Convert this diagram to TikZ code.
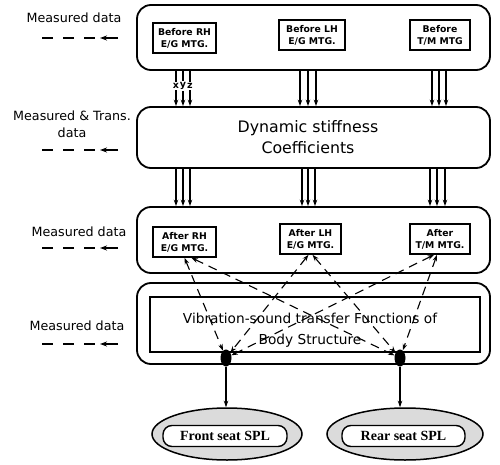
\documentclass[tikz,border=0pt]{standalone}
\usepackage{fontspec}
\setmainfont{DejaVu Sans}
\newfontfamily\seatfont{Liberation Serif}
\usetikzlibrary{arrows.meta,shapes.geometric,calc}

\begin{document}
\begin{tikzpicture}[x=1pt,y=-1pt,
  >={Stealth[length=6.5pt,width=4.5pt]},
  panel/.style={draw, line width=1.8pt, rounded corners=14pt, minimum width=353pt, inner sep=0pt},
  mtg/.style={draw, line width=1.6pt, inner sep=0pt, align=center, minimum height=30pt,
              font=\fontsize{9.3}{12}\selectfont\bfseries},
  flow/.style={line width=1.25pt, ->},
  link/.style={line width=1.1pt, dash pattern=on 9pt off 6pt, <->},
  legend/.style={line width=1.7pt, dash pattern=on 11pt off 10pt},
  legtip/.style={line width=1.7pt, -{Stealth[length=7pt,width=5pt]}},
  side/.style={inner sep=0pt, align=center, font=\fontsize{12.7}{17}\selectfont},
  dot/.style={ellipse, fill=black, minimum width=11pt, minimum height=17pt, inner sep=0pt},
  seat/.style={ellipse, draw, line width=1.5pt, fill=black!14, inner sep=0pt, minimum height=52pt},
  seatbox/.style={draw, line width=1.4pt, fill=white, rounded corners=9pt, minimum height=21pt,
                  inner sep=0pt, font=\seatfont\bfseries\fontsize{14}{16}\selectfont}
]
\useasboundingbox (0,0) rectangle (500,465);

% four process panels
\node[panel, minimum height=65pt] (b1) at (313.5,37.5) {};
\node[panel, minimum height=61pt] (b2) at (313.5,137.5) {};
\node[panel, minimum height=66pt] (b3) at (313.5,240) {};
\node[panel, minimum height=81pt] (b4) at (313.5,323.5) {};

% mounting boxes
\node[mtg, minimum width=63pt] (brh) at (184.5,38) {Before RH\\E/G MTG.};
\node[mtg, minimum width=66pt] (blh) at (312,35) {Before LH\\E/G MTG.};
\node[mtg, minimum width=60pt] (btm) at (440,35) {Before\\T/M MTG};
\node[mtg, minimum width=63pt] (arh) at (184.5,242) {After RH\\E/G MTG.};
\node[mtg, minimum width=61pt] (alh) at (310.5,239) {After LH\\E/G MTG.};
\node[mtg, minimum width=60pt] (atm) at (440,239) {After\\T/M MTG.};

% stiffness panel text
\node[inner sep=0pt, align=center, font=\fontsize{15.8}{21}\selectfont] (dsc) at (308,137.5)
  {Dynamic stiffness\\Coefficients};

% transfer function panel
\node[draw, line width=1.5pt, minimum width=330pt, minimum height=55pt, inner sep=0pt] (vbox) at (315,324.5) {};
\node[inner sep=0pt, align=center, font=\fontsize{13.7}{21}\selectfont] (vtext) at (310,330.5)
  {Vibration-sound transfer Functions of\\Body Structure};

% triple arrows, before -> stiffness
\foreach \x/\l in {176/x,183/y,190/z} {
  \node[inner sep=1.5pt, font=\fontsize{9.5}{9.5}\selectfont\bfseries] (ax\l) at (\x,86) {\l};
  \draw[line width=1.25pt] (b1.south -| ax\l) -- (ax\l.north);
  \draw[flow] (ax\l.south) -- (b2.north -| ax\l);
}
\foreach \x in {300,308,316,432,439,446}
  \draw[flow] (b1.south -| \x,0) -- (b2.north -| \x,0);

% triple arrows, stiffness -> after
\foreach \x in {176,183,190,302,308,315,430,437,445}
  \draw[flow] (b2.south -| \x,0) -- (b3.north -| \x,0);

% junction dots
\node[dot] (d1) at (226,358) {};
\node[dot] (d2) at (400,358) {};

% dashed links between mountings and junctions
\draw[link] (arh.south) -- (d1);
\draw[link] ([xshift=7pt]arh.south) -- (d2);
\draw[link] ([xshift=-2pt]alh.south) -- (d1);
\draw[link] ([xshift=2pt]alh.south) -- (d2);
\draw[link] ([xshift=-6pt]atm.south) -- (d1);
\draw[link] ([xshift=-3pt]atm.south) -- (d2);

% seat outputs
\node[seat, minimum width=150pt] (fe) at (227,434) {};
\node[seatbox, minimum width=124pt] (fs) at (225,436) {Front seat SPL};
\node[seat, minimum width=156pt] (re) at (405,434) {};
\node[seatbox, minimum width=123pt] (rs) at (403.5,436) {Rear seat SPL};
\draw[flow] (d1.south) -- (d1.south |- fe.north);
\draw[flow] (d2.south) -- (d2.south |- re.north);

% data-source legends on the left
\node[side] (m1) at (74,18) {Measured data};
\node[side] (m2) at (72,124.5) {Measured \& Trans.\\data};
\node[side] (m3) at (79,232) {Measured data};
\node[side] (m4) at (77,326) {Measured data};
\foreach \n/\y in {1/38,2/150,3/248,4/344} {
  \coordinate (g\n a) at (42,\y);
  \coordinate (g\n b) at (96,\y);
  \coordinate (g\n c) at (100,\y);
  \coordinate (g\n d) at (118,\y);
  \draw[legend] (g\n a) -- (g\n b);
  \draw[legtip] (g\n d) -- (g\n c);
}
\end{tikzpicture}
\end{document}
